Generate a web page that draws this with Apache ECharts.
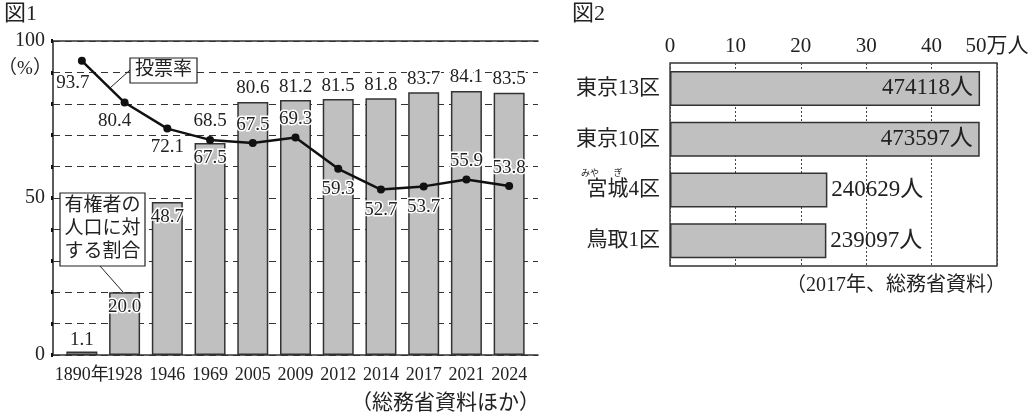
<!DOCTYPE html>
<html>
<head>
<meta charset="utf-8">
<script src="https://cdn.jsdelivr.net/npm/echarts@6/dist/echarts.min.js"></script>
<style>
  html, body { margin: 0; padding: 0; background: #fff; }
  #chart { width: 1034px; height: 417px; }
</style>
</head>
<body>
<div id="chart"></div>
<script>
// 図1 data
const years = ['1890年', '1928', '1946', '1969', '2005', '2009', '2012', '2014', '2017', '2021', '2024'];
const voterShare = [1.1, 20.0, 48.7, 67.5, 80.6, 81.2, 81.5, 81.8, 83.7, 84.1, 83.5];
const turnout = [93.7, 80.4, 72.1, 68.5, 67.5, 69.3, 59.3, 52.7, 53.7, 55.9, 53.8];

// 図2 data
const districts = ['東京13区', '東京10区', '宮城4区', '鳥取1区'];
const voters = [474118, 473597, 240629, 239097];

const FONT = '"Liberation Serif", "Noto Sans CJK JP", serif';
const INK = '#222';
const BAR = '#c0c0c0';

// label placement (style only)
const barInside = [1, 2, 3];
const lineLabelPos = [
    { position: 'bottom', offset: [-9, 4] },
    { position: 'bottom', offset: [-10, 0] },
    { position: 'bottom', offset: [0, 0] },
    { position: 'top', offset: [0, 0] },
    { position: 'top', offset: [0, 0] },
    { position: 'top', offset: [0, 0] },
    { position: 'bottom', offset: [0, 2] },
    { position: 'bottom', offset: [0, 2] },
    { position: 'bottom', offset: [0, 2] },
    { position: 'top', offset: [0, 0] },
    { position: 'top', offset: [0, 0] }
];

let labelBase = {
    show: true,
    color: INK,
    fontFamily: FONT,
    fontSize: 19,
    textBorderColor: '#fff',
    textBorderWidth: 3,
    formatter: function (p) { return p.value.toFixed(1); }
};

let barData = voterShare.map(function (v, i) {
    let inside = barInside.indexOf(i) >= 0;
    return {
        value: v,
        label: inside ? { position: 'insideTop', distance: 5 } : { position: 'top', distance: i === 0 ? 2 : 4 }
    };
});

let lineData = turnout.map(function (v, i) {
    return { value: v, label: lineLabelPos[i] };
});

let myChart = echarts.init(document.getElementById('chart'));

let option = {
    backgroundColor: '#fff',
    animation: false,
    grid: [
        { left: 53, right: 496, top: 41, bottom: 62 },
        { left: 60.5, right: 503.5, top: 41, bottom: 62 },
        { left: 670, right: 37, top: 63, bottom: 151, show: true, borderColor: '#333', borderWidth: 1.4 }
    ],
    xAxis: [
        {
            gridIndex: 0, type: 'value', min: 0, max: 1, position: 'bottom',
            axisLine: { show: true, lineStyle: { color: '#333', width: 1.6 } },
            axisTick: { show: false }, axisLabel: { show: false }, splitLine: { show: false }
        },
        {
            gridIndex: 0, type: 'value', min: 0, max: 1, position: 'top',
            axisLine: { show: true, lineStyle: { color: '#333', width: 1.6 } },
            axisTick: { show: false }, axisLabel: { show: false }, splitLine: { show: false }
        },
        {
            gridIndex: 1, type: 'category', data: years,
            axisLine: { show: false }, axisTick: { show: false },
            axisLabel: { color: INK, fontFamily: FONT, fontSize: 18, margin: 11, interval: 0 }
        },
        {
            gridIndex: 2, type: 'value', position: 'top', min: 0, max: 500000, interval: 100000,
            axisLine: { show: false }, axisTick: { show: false },
            axisLabel: {
                color: INK, fontFamily: FONT, fontSize: 21, margin: 6,
                formatter: function (v) {
                    return v === 500000 ? '50万人' : String(v / 10000);
                }
            },
            splitLine: { show: true, lineStyle: { color: '#444', type: [2, 2], width: 1 } }
        }
    ],
    yAxis: [
        {
            gridIndex: 0, type: 'value', min: 0, max: 100, interval: 10,
            axisLine: { show: true, lineStyle: { color: '#333', width: 1.6 } },
            axisTick: { show: true, length: 2, lineStyle: { color: '#111', width: 4 } },
            axisLabel: {
                color: INK, fontFamily: FONT, fontSize: 20, margin: 8,
                formatter: function (v) {
                    return (v === 0 || v === 50 || v === 100) ? String(v) : '';
                }
            },
            splitLine: { show: true, lineStyle: { color: '#333', type: [7, 5], width: 1 } }
        },
        {
            gridIndex: 1, type: 'value', min: 0, max: 100, show: false
        },
        {
            gridIndex: 2, type: 'category', data: districts, inverse: true,
            axisLine: { show: false }, axisTick: { show: false },
            axisLabel: { color: INK, fontFamily: FONT, fontSize: 21, margin: 10 }
        }
    ],
    series: [
        {
            name: '有権者の人口に対する割合',
            type: 'bar',
            xAxisIndex: 2, yAxisIndex: 1,
            barWidth: 31,
            itemStyle: { color: BAR, borderColor: '#333', borderWidth: 1.5 },
            label: labelBase,
            data: barData,
            z: 2
        },
        {
            name: '投票率',
            type: 'line',
            xAxisIndex: 2, yAxisIndex: 1,
            symbol: 'circle',
            symbolSize: 8,
            itemStyle: { color: '#111' },
            lineStyle: { color: '#111', width: 2.5 },
            label: Object.assign({}, labelBase, { distance: 5 }),
            data: lineData,
            z: 4
        },
        {
            name: '有権者数',
            type: 'bar',
            xAxisIndex: 3, yAxisIndex: 2,
            barWidth: 35,
            itemStyle: { color: BAR, borderColor: '#333', borderWidth: 1.5 },
            label: {
                show: true,
                color: INK,
                fontFamily: FONT,
                fontSize: 23,
                formatter: function (p) { return p.value + '人'; }
            },
            data: voters.map(function (v) {
                return {
                    value: v,
                    label: v > 400000 ? { position: 'insideRight', distance: 7 } : { position: 'right', distance: 4 }
                };
            })
        }
    ],
    graphic: [
        { type: 'text', left: 4, top: 3, style: { text: '図1', font: '22px ' + FONT, fill: INK } },
        { type: 'text', left: 572, top: 3, style: { text: '図2', font: '22px ' + FONT, fill: INK } },
        { type: 'text', x: 25, y: 69, style: { text: '（%）', font: '19px ' + FONT, fill: INK, align: 'center', verticalAlign: 'middle' } },
        // 投票率 callout
        { type: 'line', shape: { x1: 130, y1: 70, x2: 110, y2: 88 }, style: { stroke: '#222', lineWidth: 1 }, z: 10 },
        { type: 'rect', shape: { x: 130, y: 58, width: 67, height: 25 }, style: { fill: '#fff', stroke: '#222', lineWidth: 1.2 }, z: 10 },
        { type: 'text', x: 163.5, y: 70.5, style: { text: '投票率', font: '19px ' + FONT, fill: INK, align: 'center', verticalAlign: 'middle' }, z: 11 },
        // 有権者の人口に対する割合 callout
        { type: 'line', shape: { x1: 100, y1: 266, x2: 123, y2: 292 }, style: { stroke: '#222', lineWidth: 1 }, z: 10 },
        { type: 'rect', shape: { x: 60, y: 193, width: 85, height: 73 }, style: { fill: '#fff', stroke: '#222', lineWidth: 1.2 }, z: 10 },
        {
            type: 'text', x: 102.5, y: 229.5,
            style: { text: '有権者の\n人口に対\nする割合', font: '19px ' + FONT, lineHeight: 23, fill: INK, align: 'center', verticalAlign: 'middle' },
            z: 11
        },
        // sources
        { type: 'text', right: 1034 - 540, top: 393, style: { text: '（総務省資料ほか）', font: '21px ' + FONT, fill: INK } },
        { type: 'text', right: 1034 - 1006, top: 276, style: { text: '（2017年、総務省資料）', font: '20px ' + FONT, fill: INK } },
        // furigana
        { type: 'text', x: 590, y: 173, style: { text: 'みや', font: '9px "Noto Sans CJK JP"', fill: INK, align: 'center', verticalAlign: 'middle' } },
        { type: 'text', x: 618, y: 173, style: { text: 'ぎ', font: '9px "Noto Sans CJK JP"', fill: INK, align: 'center', verticalAlign: 'middle' } }
    ]
};

option && myChart.setOption(option);
</script>
</body>
</html>
